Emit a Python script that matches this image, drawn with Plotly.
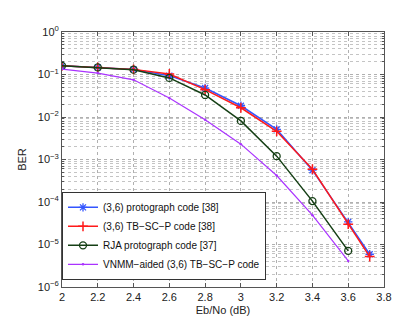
import plotly.graph_objects as go

ebno = [2.0, 2.2, 2.4, 2.6, 2.8, 3.0, 3.2, 3.4, 3.6, 3.72]
proto_ber = [0.16, 0.147, 0.132, 0.094, 0.048, 0.0184, 0.0051, 5.6e-4, 3.4e-5, 5.9e-6]
tbscp_ber = [0.16, 0.147, 0.132, 0.103, 0.044, 0.0165, 0.0046, 5.9e-4, 3.0e-5, 5.2e-6]
rja_x = [2.0, 2.2, 2.4, 2.6, 2.8, 3.0, 3.2, 3.4, 3.6]
rja_ber = [0.16, 0.147, 0.13, 0.083, 0.033, 0.0081, 0.0012, 1.05e-4, 7.1e-6]
vnmm_x = [2.0, 2.2, 2.4, 2.6, 2.8, 3.0, 3.2, 3.4, 3.6]
vnmm_ber = [0.134, 0.108, 0.075, 0.028, 0.0086, 0.0023, 4.2e-4, 4.9e-5, 4.1e-6]

x_ticks = [2, 2.2, 2.4, 2.6, 2.8, 3, 3.2, 3.4, 3.6, 3.8]
x_labels = ["2", "2.2", "2.4", "2.6", "2.8", "3", "3.2", "3.4", "3.6", "3.8"]
y_ticks = [1, 1e-1, 1e-2, 1e-3, 1e-4, 1e-5, 1e-6]
y_labels = ["10<sup>0</sup>", "10<sup>−1</sup>", "10<sup>−2</sup>", "10<sup>−3</sup>",
            "10<sup>−4</sup>", "10<sup>−5</sup>", "10<sup>−6</sup>"]

FONT = "Liberation Sans, Arial"

fig = go.Figure()
fig.add_trace(go.Scatter(x=ebno, y=proto_ber, mode="lines+markers",
                         name="(3,6) protograph code [38]",
                         line=dict(color="#3355ff", width=1.5),
                         marker=dict(symbol="asterisk-open", size=7, color="#3355ff",
                                     line=dict(color="#3355ff", width=1.3))))
fig.add_trace(go.Scatter(x=ebno, y=tbscp_ber, mode="lines+markers",
                         name="(3,6) TB−SC−P code [38]",
                         line=dict(color="#ff1a1a", width=1.5),
                         marker=dict(symbol="cross-thin-open", size=7, color="#ff1a1a",
                                     line=dict(color="#ff1a1a", width=1.5))))
fig.add_trace(go.Scatter(x=rja_x, y=rja_ber, mode="lines+markers",
                         name="RJA protograph code [37]",
                         line=dict(color="#153f15", width=1.5),
                         marker=dict(symbol="circle-open", size=7, color="#153f15",
                                     line=dict(color="#153f15", width=1.3))))
fig.add_trace(go.Scatter(x=vnmm_x, y=vnmm_ber, mode="lines+markers",
                         name="VNMM−aided (3,6) TB−SC−P code",
                         line=dict(color="#aa33ff", width=1.2),
                         marker=dict(symbol="circle", size=2.5, color="#aa33ff")))

axis_common = dict(showline=True, linecolor="#555555", linewidth=1, mirror="ticks",
                   ticks="inside", ticklen=4, tickcolor="#555555",
                   gridcolor="#b0b0b0", griddash="dot", gridwidth=1,
                   tickfont=dict(family=FONT, size=11, color="#222222"),
                   zeroline=False)

fig.update_xaxes(range=[2, 3.8], tickvals=x_ticks, ticktext=x_labels,
                 title=dict(text="Eb/No (dB)", font=dict(family=FONT, size=11, color="#222222"), standoff=4),
                 **axis_common)
fig.update_yaxes(type="log", range=[-6, 0], tickvals=y_ticks, ticktext=y_labels,
                 title=dict(text="BER", font=dict(family=FONT, size=11, color="#222222"), standoff=8),
                 minor=dict(showgrid=True, gridcolor="#c4c4c4", griddash="dot", gridwidth=1,
                            ticks="inside", ticklen=2, tickcolor="#555555",
                            tickvals=[m * 10 ** e for e in range(-6, 0) for m in range(2, 10)]),
                 **axis_common)

fig.update_layout(width=415, height=319, margin=dict(l=54, r=39, t=24, b=36),
                  plot_bgcolor="white", paper_bgcolor="white",
                  font=dict(family=FONT, size=11, color="#222222"),
                  legend=dict(x=0.0, y=0.028, xanchor="left", yanchor="bottom",
                              bgcolor="white", bordercolor="#333333", borderwidth=1,
                              font=dict(family=FONT, size=10, color="#111111"),
                              tracegroupgap=0, itemwidth=30),
                  showlegend=True)

fig.write_html("out.html")
